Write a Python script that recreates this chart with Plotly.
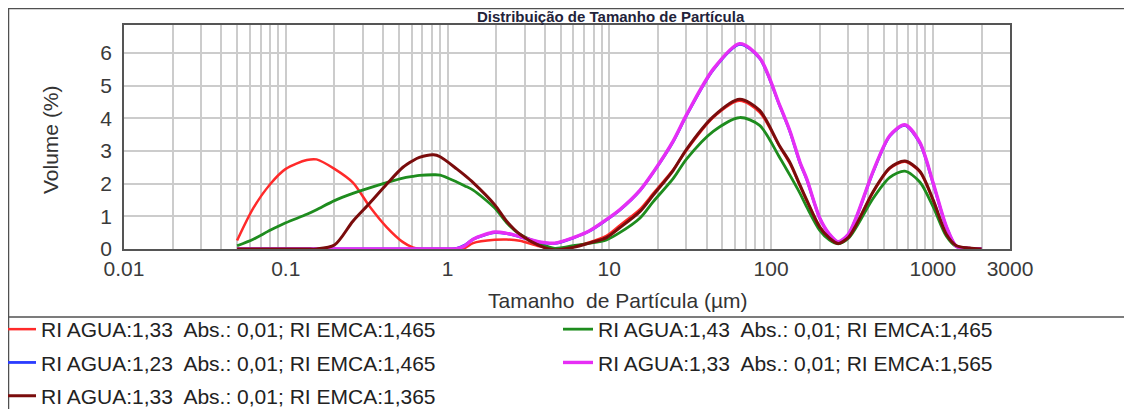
import plotly.graph_objects as go

# particle size classes (µm)
size_um = [0.05, 0.063, 0.08, 0.1, 0.135, 0.155, 0.2, 0.26, 0.33, 0.42, 0.53, 0.61,
           0.67, 0.82, 0.9, 1.14, 1.28, 1.44, 1.96, 2.32, 2.8, 3.7, 4.6, 6.0, 7.5,
           9.6, 11.6, 15.5, 18.7, 24.8, 30, 43.9, 64, 85, 113, 131, 151, 166, 200,
           230, 260, 300, 337, 428, 542, 671, 831, 1005, 1210, 1400, 1680, 2000]

# volume (%) per refractive index setting
vol_red = [0.26, 1.25, 1.98, 2.45, 2.72, 2.74, 2.45, 2.03, 1.30, 0.67, 0.21, 0.05,
           0.01, 0, 0, 0, 0.03, 0.18, 0.28, 0.29, 0.25, 0.08, 0.02, 0.08, 0.20,
           0.40, 0.72, 1.22, 1.70, 2.42, 3.02, 4.02, 4.53, 4.18, 3.13, 2.60, 1.93,
           1.48, 0.68, 0.33, 0.17, 0.34, 0.74, 1.74, 2.46, 2.67, 2.36, 1.48, 0.45,
           0.10, 0.03, 0]
vol_green = [0.10, 0.30, 0.57, 0.80, 1.06, 1.20, 1.48, 1.70, 1.87, 2.03, 2.17, 2.22,
             2.25, 2.27, 2.26, 2.05, 1.93, 1.80, 1.25, 0.80, 0.45, 0.17, 0.02, 0.10,
             0.17, 0.28, 0.50, 0.95, 1.45, 2.15, 2.75, 3.60, 4.02, 3.78, 2.80, 2.25,
             1.70, 1.29, 0.57, 0.27, 0.16, 0.32, 0.67, 1.55, 2.19, 2.38, 2.05, 1.29,
             0.40, 0.07, 0.02, 0]
vol_blue = [0, 0, 0, 0, 0, 0, 0, 0, 0, 0, 0, 0,
            0, 0, 0, 0.02, 0.12, 0.30, 0.50, 0.47, 0.37, 0.21, 0.17, 0.34, 0.54,
            0.89, 1.19, 1.79, 2.34, 3.28, 4.08, 5.48, 6.26, 5.83, 4.38, 3.58, 2.63,
            2.13, 0.94, 0.44, 0.21, 0.44, 0.97, 2.36, 3.45, 3.78, 3.24, 2.00, 0.69,
            0.08, 0.02, 0]
vol_magenta = [0, 0, 0, 0, 0, 0, 0, 0, 0, 0, 0, 0,
               0, 0, 0, 0.01, 0.10, 0.30, 0.52, 0.48, 0.38, 0.22, 0.18, 0.35, 0.55,
               0.90, 1.20, 1.80, 2.35, 3.30, 4.10, 5.50, 6.28, 5.85, 4.40, 3.60, 2.65,
               2.15, 0.95, 0.45, 0.22, 0.45, 0.98, 2.38, 3.47, 3.80, 3.26, 2.02, 0.70,
               0.08, 0.02, 0]
vol_brown = [0, 0, 0, 0, 0, 0, 0.12, 0.85, 1.40, 1.98, 2.50, 2.70,
             2.80, 2.88, 2.82, 2.45, 2.25, 2.03, 1.35, 0.85, 0.45, 0.10, -0.03, 0.05,
             0.18, 0.35, 0.65, 1.15, 1.65, 2.40, 3.05, 4.05, 4.58, 4.24, 3.15, 2.64,
             1.95, 1.50, 0.67, 0.33, 0.17, 0.35, 0.75, 1.76, 2.48, 2.69, 2.38, 1.50,
             0.46, 0.10, 0.03, 0]

# (legend label, values, colour, line width, legend column)
series = [
    ("RI AGUA:1,33  Abs.: 0,01; RI EMCA:1,465", vol_red, "#ff2a2a", 2.5, "legend"),
    ("RI AGUA:1,43  Abs.: 0,01; RI EMCA:1,465", vol_green, "#1e8c1e", 2.8, "legend2"),
    ("RI AGUA:1,23  Abs.: 0,01; RI EMCA:1,465", vol_blue, "#2a3cff", 2.8, "legend"),
    ("RI AGUA:1,33  Abs.: 0,01; RI EMCA:1,565", vol_magenta, "#e62ef5", 3.4, "legend2"),
    ("RI AGUA:1,33  Abs.: 0,01; RI EMCA:1,365", vol_brown, "#7a0c0c", 3.0, "legend"),
]

# log grid positions and labels
labelled = {0.01: "0.01", 0.1: "0.1", 1: "1", 10: "10", 100: "100", 1000: "1000", 3000: "3000"}
tick_vals = []
tick_text = []
for d in range(-2, 4):
    for k in range(1, 10):
        v = round(k * 10 ** d, 4)
        if v > 3000:
            break
        tick_vals.append(v)
        tick_text.append(labelled.get(v, ""))

FONT = "Liberation Sans, Arial, sans-serif"

fig = go.Figure()
for name, vals, color, width, leg in series:
    fig.add_trace(go.Scatter(
        x=size_um, y=vals, mode='lines', name=name, legend=leg, legendgroup=name,
        line=dict(color=color, width=width, shape='spline', smoothing=0.8),
    ))

# page has an 8px body margin, so the figure is drawn 8px in from the window
OFF = 8
W, H = 1132 - OFF, 409 - OFF
L, T = 124 - OFF, 25 - OFF
R = W - (1010 - OFF)
B = H - (249 - OFF)
pw, ph = W - L - R, H - T - B


def px(xp):
    # window pixel -> paper x
    return (xp - OFF - L) / pw


def py(yp):
    # window pixel -> paper y
    return (H - B - (yp - OFF)) / ph


frame = dict(color="#505050", width=1.5)
leg_font = dict(family=FONT, size=21, color="#222222")
fig.update_layout(
    width=W, height=H,
    margin=dict(l=L, r=R, t=T, b=B, autoexpand=False),
    paper_bgcolor="white", plot_bgcolor="white",
    font=dict(family=FONT, size=19, color="#333333"),
    showlegend=True,
    legend=dict(
        x=px(1), y=py(309), xanchor='left', yanchor='top', font=leg_font,
        itemwidth=30, tracegroupgap=3, bgcolor='rgba(0,0,0,0)',
    ),
    legend2=dict(
        x=px(558), y=py(309), xanchor='left', yanchor='top', font=leg_font,
        itemwidth=30, tracegroupgap=3, bgcolor='rgba(0,0,0,0)',
    ),
    xaxis=dict(
        type='log', range=[-2, 3.4771], tickvals=tick_vals, ticktext=tick_text,
        showgrid=True, gridcolor="#cccccc", gridwidth=1.5, ticks="",
        showline=True, linecolor="#555555", linewidth=1.5, mirror=True,
        tickfont=dict(size=21, color="#3a3a3a"), zeroline=False,
    ),
    yaxis=dict(
        range=[0, 6.85], dtick=1, showgrid=True, gridcolor="#cccccc", gridwidth=1.5,
        ticks="", showline=True, linecolor="#555555", linewidth=1.5, mirror=True,
        tickfont=dict(size=21, color="#3a3a3a"), zeroline=False, ticklabelstandoff=6,
    ),
    annotations=[
        dict(text="<b>Distribuição de Tamanho de Partícula</b>", xref='paper', yref='paper',
             x=px(611), y=py(16.5), xanchor='center', yanchor='middle', showarrow=False,
             font=dict(family=FONT, size=15, color="#22223a")),
        dict(text="Tamanho  de Partícula (µm)", xref='paper', yref='paper',
             x=px(618), y=py(300), xanchor='center', yanchor='middle', showarrow=False,
             font=dict(family=FONT, size=21, color="#333333")),
        dict(text="Volume (%)", xref='paper', yref='paper', textangle=-90,
             x=px(50), y=py(140), xanchor='center', yanchor='middle', showarrow=False,
             font=dict(family=FONT, size=21, color="#333333")),
    ],
    shapes=[
        dict(type='line', xref='paper', yref='paper', x0=px(7), x1=px(1132), y0=py(8.5), y1=py(8.5), line=frame),
        dict(type='line', xref='paper', yref='paper', x0=px(8.5), x1=px(8.5), y0=py(8.5), y1=py(409), line=frame),
        dict(type='line', xref='paper', yref='paper', x0=px(7), x1=px(1132), y0=py(317), y1=py(317), line=frame),
    ],
)

fig.write_html("out.html")
